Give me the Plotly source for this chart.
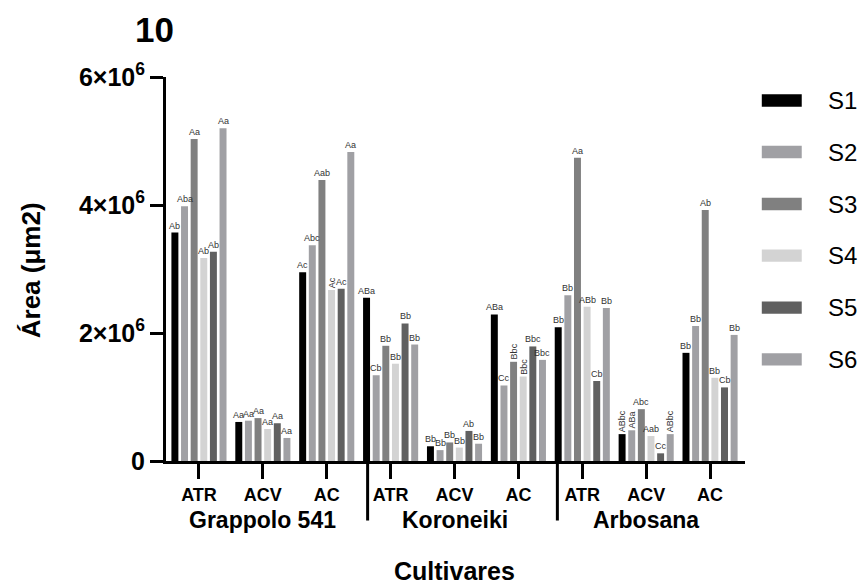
import plotly.graph_objects as go

# Cultivars, treatments and sampling series
cultivars = ["Grappolo 541", "Koroneiki", "Arbosana"]
treatments = ["ATR", "ACV", "AC"]
series = ["S1", "S2", "S3", "S4", "S5", "S6"]
y_tickvals = [0, 2e6, 4e6, 6e6]
y_ticktext = ["0", "2×10<sup>6</sup>", "4×10<sup>6</sup>", "6×10<sup>6</sup>"]

# Area (µm²); order: Grappolo ATR, ACV, AC | Koroneiki ATR, ACV, AC | Arbosana ATR, ACV, AC
s1 = [3.57e6, 0.61e6, 2.95e6, 2.55e6, 0.23e6, 2.29e6, 2.09e6, 0.42e6, 1.69e6]
s2 = [3.98e6, 0.63e6, 3.37e6, 1.34e6, 0.17e6, 1.18e6, 2.59e6, 0.48e6, 2.11e6]
s3 = [5.03e6, 0.67e6, 4.39e6, 1.80e6, 0.29e6, 1.55e6, 4.74e6, 0.81e6, 3.92e6]
s4 = [3.17e6, 0.50e6, 2.67e6, 1.52e6, 0.21e6, 1.32e6, 2.41e6, 0.39e6, 1.30e6]
s5 = [3.27e6, 0.59e6, 2.69e6, 2.15e6, 0.47e6, 1.79e6, 1.25e6, 0.12e6, 1.15e6]
s6 = [5.20e6, 0.36e6, 4.83e6, 1.82e6, 0.27e6, 1.58e6, 2.39e6, 0.42e6, 1.97e6]

# Significance letters
l1 = ["Ab", "Aa", "Ac", "ABa", "Bb", "ABa", "Bb", "ABbc", "Bb"]
l2 = ["Aba", "Aa", "Abc", "Cb", "Bb", "Cc", "Bb", "ABa", "Bb"]
l3 = ["Aa", "Aa", "Aab", "Bb", "Bb", "Bbc", "Aa", "Abc", "Ab"]
l4 = ["Ab", "Aa", "Ac", "Bb", "Bb", "Bbc", "ABb", "Aab", "Bb"]
l5 = ["Ab", "Aa", "Ac", "Bb", "Ab", "Bbc", "Cb", "Cc", "Cb"]
l6 = ["Aa", "Aa", "Aa", "Bb", "Bb", "Bbc", "Bb", "ABbc", "Bb"]

# (series index, bar index) of letters written vertically
vertical_labels = {(3, 2), (2, 5), (3, 5), (0, 7), (1, 7), (5, 7)}

values = [s1, s2, s3, s4, s5, s6]
letters = [l1, l2, l3, l4, l5, l6]
colors = ["#000000", "#a0a0a4", "#808080", "#d3d3d3", "#606060", "#a0a0a4"]

FONT = "Arial, Liberation Sans, sans-serif"
x_pos = list(range(len(treatments) * len(cultivars)))
tick_text = treatments * len(cultivars)

pitch = 0.1507
bar_w = 0.109

fig = go.Figure()
annotations = []
for i, (name, vals, labs, col) in enumerate(zip(series, values, letters, colors)):
    center = (i - 2.5) * pitch
    fig.add_trace(go.Bar(
        x=x_pos, y=vals, name=name,
        marker=dict(color=col, line=dict(width=0)),
        width=bar_w, offset=center - bar_w / 2,
        hoverinfo="skip", showlegend=False,
    ))
    for j, (v, t) in enumerate(zip(vals, labs)):
        annotations.append(dict(
            x=x_pos[j] + center, y=v, xref="x", yref="y",
            text=t, showarrow=False, yanchor="bottom", xanchor="center",
            textangle=-90 if (i, j) in vertical_labels else 0,
            font=dict(family=FONT, size=9, color="#333333"),
            borderpad=0, yshift=1,
        ))

# Cultivar names beneath the treatment labels
for k, c in enumerate(cultivars):
    annotations.append(dict(
        x=k * 3 + 1, y=-0.154, xref="x", yref="paper", text=f"<b>{c}</b>",
        showarrow=False, xanchor="center", yanchor="middle",
        font=dict(family=FONT, size=23, color="#000000"),
    ))

# Axis titles and panel number
annotations += [
    dict(x=4, y=-0.287, xref="x", yref="paper", text="<b>Cultivares</b>",
         showarrow=False, xanchor="center", yanchor="middle",
         font=dict(family=FONT, size=25, color="#000000")),
    dict(x=-0.233, y=0.497, xref="paper", yref="paper", text="<b>Área (μm2)</b>",
         showarrow=False, textangle=-90, xanchor="center", yanchor="middle",
         font=dict(family=FONT, size=26, color="#000000")),
    dict(x=-0.019, y=1.125, xref="paper", yref="paper", text="<b>10</b>",
         showarrow=False, xanchor="center", yanchor="middle",
         font=dict(family=FONT, size=35, color="#000000")),
]

shapes = []
# Separators between cultivars
for xs in [2.64, 5.61]:
    shapes.append(dict(type="line", xref="x", yref="paper", x0=xs, x1=xs,
                       y0=0, y1=-0.155, line=dict(color="#000000", width=3)))

# Legend swatches and labels
legend_y = [100.5, 152, 204, 255.7, 307.7, 359.3]
for name, col, ly in zip(series, colors, legend_y):
    py = (461 - ly) / 384
    shapes.append(dict(type="rect", xref="paper", yref="paper",
                       x0=1.029, x1=1.098, y0=py - 0.016, y1=py + 0.016,
                       fillcolor=col, line=dict(width=0)))
    annotations.append(dict(x=1.14, y=py, xref="paper", yref="paper", text=name,
                            showarrow=False, xanchor="left", yanchor="middle",
                            font=dict(family=FONT, size=24, color="#000000")))

fig.update_layout(
    width=858, height=587,
    margin=dict(l=166, r=113, t=77, b=126),
    paper_bgcolor="white", plot_bgcolor="white",
    barmode="overlay",
    showlegend=False,
    annotations=annotations,
    shapes=shapes,
    font=dict(family=FONT, color="#000000"),
)
fig.update_xaxes(
    range=[-0.516, 8.547], tickvals=x_pos, ticktext=[f"<b>{t}</b>" for t in tick_text],
    showgrid=False, zeroline=False, showline=True, linecolor="#000000", linewidth=3,
    ticks="outside", ticklen=15, tickwidth=3, tickcolor="#000000",
    tickfont=dict(family=FONT, size=18, color="#000000"),
)
fig.update_yaxes(
    range=[0, 6e6], tickvals=y_tickvals, ticktext=[f"<b>{t}</b>" for t in y_ticktext],
    showgrid=False, zeroline=False, showline=True, linecolor="#000000", linewidth=3,
    ticks="outside", ticklen=13, tickwidth=3, tickcolor="#000000",
    tickfont=dict(family=FONT, size=25, color="#000000"),
)

fig.write_html("out.html")
